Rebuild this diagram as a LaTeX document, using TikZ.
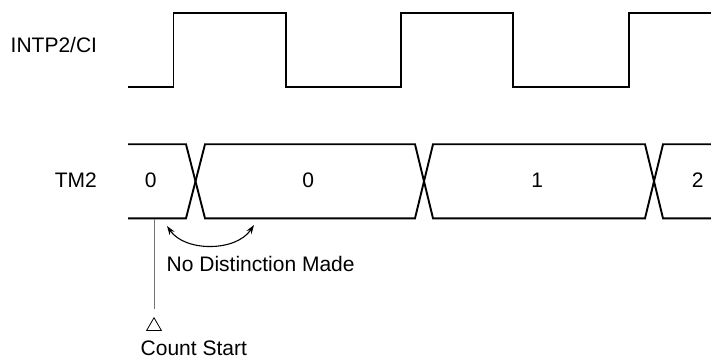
\documentclass[tikz,border=0pt]{standalone}
\usepackage{fontspec}
\setmainfont{Liberation Sans}
\usetikzlibrary{arrows.meta,shapes.geometric}
\begin{document}
\begin{tikzpicture}[x=1pt,y={(0pt,-1pt)},
  sig/.style={line width=1.9pt,line join=miter,line cap=butt},
  lbl/.style={inner sep=0pt,font=\fontsize{21}{24}\selectfont},
  thin/.style={line width=0.9pt,draw=black!55}]
\useasboundingbox (0,0) rectangle (711,358);
% labels
\node[lbl,anchor=base west] (intp) at (10.5,52.3) {INTP2/CI};
\node[lbl,anchor=base west] (tm) at (54.6,187.7) {TM2};
\node[lbl,anchor=base] (v0a) at (150.7,187.7) {0};
\node[lbl,anchor=base] (v0b) at (308.3,187.7) {0};
\node[lbl,anchor=base] (v1) at (537.3,187.7) {1};
\node[lbl,anchor=base] (v2) at (697.7,187.7) {2};
\node[lbl,anchor=base west] (nd) at (166.5,271) {No Distinction Made};
\node[lbl,anchor=base west] (cs) at (140.5,355) {Count Start};
% INTP2/CI waveform
\draw[sig] (128,87) -- (173.5,87) -- (173.5,13) -- (286,13) -- (286,87)
  -- (401,87) -- (401,13) -- (513,13) -- (513,87) -- (629,87) -- (629,13) -- (711,13);
% TM2 bus
\draw[sig] (128,144.3) -- (186,144.3) -- (205,218.3) -- (415,218.3) -- (433,144.3)
  -- (645,144.3) -- (663,218.3) -- (711,218.3);
\draw[sig] (128,218.3) -- (186,218.3) -- (205,144.3) -- (415,144.3) -- (433,218.3)
  -- (645,218.3) -- (663,144.3) -- (711,144.3);
% count start marker
\coordinate (cstop) at (154,219);
\node[draw,regular polygon,regular polygon sides=3,minimum size=17pt,inner sep=0pt,line width=0.8pt] (tri) at (154,326.2) {};
\draw[thin] (cstop) -- (154,309);
% no distinction arc
\coordinate (al) at (167,226);
\coordinate (ar) at (254,225);
\draw[line width=1.1pt,{Stealth[length=9pt,width=6pt]}-{Stealth[length=9pt,width=6pt]}]
  (al) .. controls (185,252) and (236,252) .. (ar);
\end{tikzpicture}
\end{document}
